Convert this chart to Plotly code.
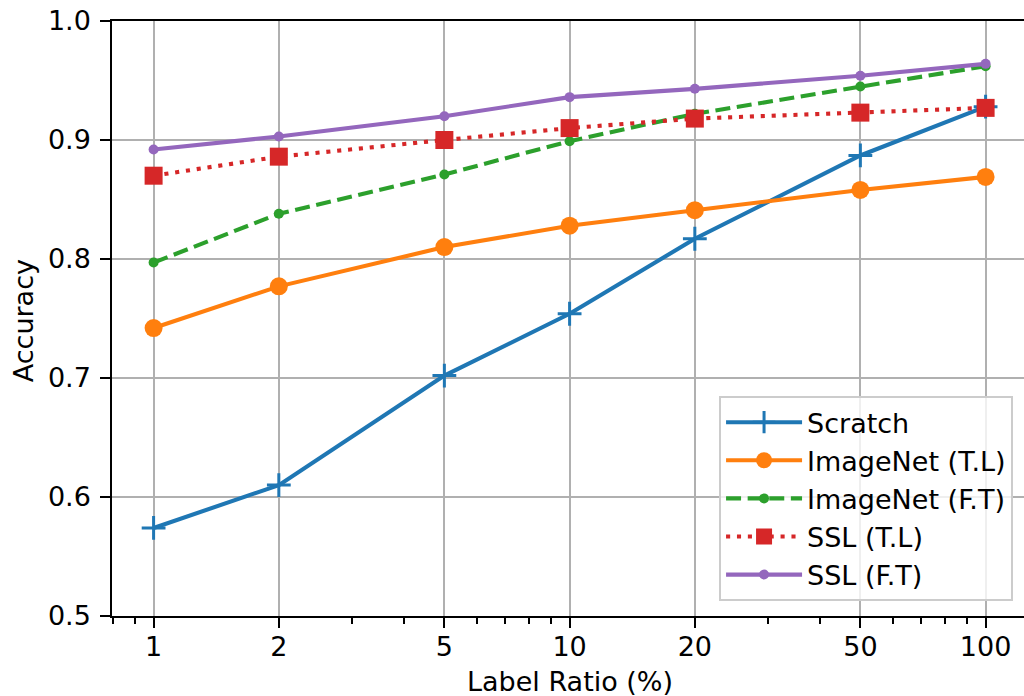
import plotly.graph_objects as go

label_ratio = [1, 2, 5, 10, 20, 50, 100]
scratch = [0.574, 0.610, 0.702, 0.754, 0.817, 0.887, 0.928]
imagenet_tl = [0.742, 0.777, 0.810, 0.828, 0.841, 0.858, 0.869]
imagenet_ft = [0.797, 0.838, 0.871, 0.899, 0.922, 0.945, 0.962]
ssl_tl = [0.870, 0.886, 0.900, 0.910, 0.918, 0.923, 0.927]
ssl_ft = [0.892, 0.903, 0.920, 0.936, 0.943, 0.954, 0.964]
x_ticks = [1, 2, 5, 10, 20, 50, 100]
y_ticks = [0.5, 0.6, 0.7, 0.8, 0.9, 1.0]

FONT = "DejaVu Sans"
FS = 27
LW = 4.1

fig = go.Figure()
fig.add_trace(go.Scatter(
    x=label_ratio, y=scratch, name="Scratch", mode="lines+markers",
    line=dict(color="#1f77b4", width=LW),
    marker=dict(symbol="cross-thin", size=17, color="#1f77b4",
                line=dict(color="#1f77b4", width=3))))
fig.add_trace(go.Scatter(
    x=label_ratio, y=imagenet_tl, name="ImageNet (T.L)", mode="lines+markers",
    line=dict(color="#ff7f0e", width=LW),
    marker=dict(symbol="circle", size=18, color="#ff7f0e")))
fig.add_trace(go.Scatter(
    x=label_ratio, y=imagenet_ft, name="ImageNet (F.T)", mode="lines+markers",
    line=dict(color="#2ca02c", width=LW, dash="15px,6.6px"),
    marker=dict(symbol="circle", size=10, color="#2ca02c")))
fig.add_trace(go.Scatter(
    x=label_ratio, y=ssl_tl, name="SSL (T.L)", mode="lines+markers",
    line=dict(color="#d62728", width=LW, dash="4.1px,6.8px"),
    marker=dict(symbol="square", size=18, color="#d62728")))
fig.add_trace(go.Scatter(
    x=label_ratio, y=ssl_ft, name="SSL (F.T)", mode="lines+markers",
    line=dict(color="#9467bd", width=LW),
    marker=dict(symbol="circle", size=10, color="#9467bd")))

fig.update_layout(
    width=1024, height=696,
    margin=dict(l=112, r=0, t=21, b=80, autoexpand=False),
    paper_bgcolor="white", plot_bgcolor="white",
    font=dict(family=FONT, size=FS, color="black"),
    showlegend=True,
    legend=dict(
        x=0.988, y=0.025, xanchor="right", yanchor="bottom",
        bgcolor="rgba(255,255,255,0.8)", bordercolor="#cccccc", borderwidth=2,
        font=dict(family=FONT, size=FS, color="black"),
        itemwidth=76, tracegroupgap=0,
    ),
    annotations=[
        dict(text="Label Ratio (%)", xref="paper", yref="paper",
             x=0.502, y=-0.110, xanchor="center", yanchor="middle",
             showarrow=False, font=dict(family=FONT, size=FS, color="black")),
        dict(text="Accuracy", xref="paper", yref="paper",
             x=-0.0976, y=0.497, xanchor="center", yanchor="middle",
             textangle=-90, showarrow=False,
             font=dict(family=FONT, size=FS, color="black")),
    ],
)
fig.update_xaxes(
    type="log", range=[-0.1, 2.0923], automargin=False,
    tickmode="array", tickvals=x_ticks, ticktext=[str(v) for v in x_ticks],
    ticks="outside", ticklen=9.6, tickwidth=2.2, tickcolor="black",
    ticklabelstandoff=-4,
    showline=True, linecolor="black", linewidth=2.2, mirror=True,
    showgrid=True, gridcolor="#b0b0b0", gridwidth=2.2,
    zeroline=False,
    minor=dict(ticks="outside", ticklen=5.5, tickwidth=1.6, tickcolor="black",
               dtick="D1", showgrid=False),
    tickfont=dict(family=FONT, size=FS),
)
fig.update_yaxes(
    range=[0.5, 1.0], automargin=False,
    tickmode="array", tickvals=y_ticks, ticktext=[f"{v:.1f}" for v in y_ticks],
    ticks="outside", ticklen=9.6, tickwidth=2.2, tickcolor="black",
    ticklabelstandoff=4,
    showline=True, linecolor="black", linewidth=2.2, mirror=False,
    showgrid=True, gridcolor="#b0b0b0", gridwidth=2.2,
    zeroline=False,
    tickfont=dict(family=FONT, size=FS),
)

fig.write_html("out.html", config={"displayModeBar": False},
               post_script="document.body.style.margin='0';document.body.style.overflow='hidden';")
